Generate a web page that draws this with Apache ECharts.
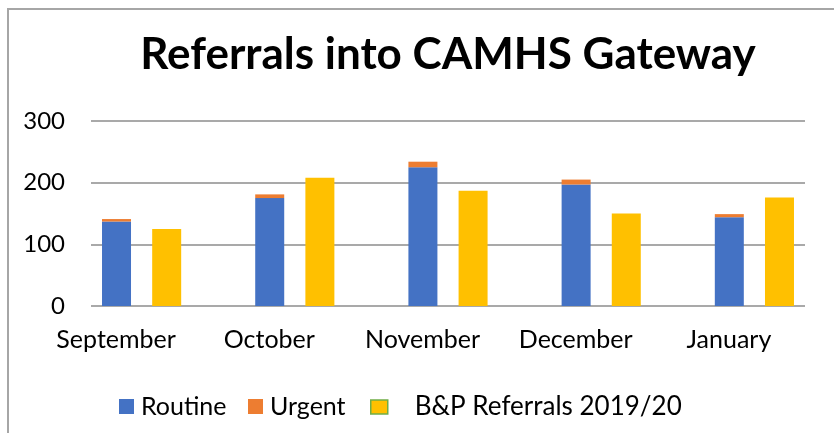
<!DOCTYPE html>
<html>
<head>
<meta charset="utf-8">
<style>
  html, body { margin: 0; padding: 0; background: #fff; }
  #main { width: 834px; height: 433px; }
</style>
<script src="https://cdn.jsdelivr.net/npm/echarts@6/dist/echarts.min.js"></script>
</head>
<body>
<div id="main"></div>
<script>
// data
var months = ['September', 'October', 'November', 'December', 'January'];
var routine = [137, 175, 225, 197, 144];
var urgent = [4, 6, 9, 8, 5];
var bpReferrals = [125, 208, 187, 150, 176];
var yTicks = [0, 100, 200, 300];

(function(){
  'use strict';

  var font = 'Lato';
  var myChart = echarts.init(document.getElementById('main'));

  var option = {
    animation: false,
    backgroundColor: '#fff',
    title: {
      text: 'Referrals into CAMHS Gateway',
      left: 443,
      top: 28,
      textAlign: 'center',
      textStyle: { fontFamily: font, fontWeight: 'bold', fontSize: 44, color: '#000' }
    },
    // outer frame (left + top only)
    graphic: [{
      type: 'polyline',
      shape: { points: [[8, 433], [8, 9], [834, 9]] },
      style: { stroke: '#a6a6a6', lineWidth: 2, fill: null }
    }],
    legend: [
      {
        data: ['Routine'], left: 114, top: 389,
        itemWidth: 15, itemHeight: 15, itemGap: 6, icon: 'rect',
        textStyle: { fontFamily: font, fontSize: 25, color: '#000', padding: [0, 0, 0, 2] }
      },
      {
        data: ['Urgent'], left: 243, top: 389,
        itemWidth: 15, itemHeight: 15, icon: 'rect',
        textStyle: { fontFamily: font, fontSize: 25, color: '#000', padding: [0, 0, 0, 2] }
      },
      {
        data: [{ name: 'B&P Referrals 2019/20', itemStyle: { borderColor: '#70AD47', borderWidth: 1.5 } }],
        left: 365, top: 389,
        itemWidth: 17, itemHeight: 14, icon: 'rect',
        textStyle: { fontFamily: font, fontSize: 26, color: '#000', padding: [0, 0, 0, 22] }
      }
    ],
    grid: [
      { left: 91, right: 29, top: 121, bottom: 127 },   // gridlines + y labels
      { left: 65, right: 3, top: 121, bottom: 127 }     // bars + month labels
    ],
    xAxis: [
      { gridIndex: 0, type: 'category', data: months, show: false },
      {
        gridIndex: 1, type: 'category', data: months,
        axisLine: { show: false }, axisTick: { show: false },
        axisLabel: {
          interval: 0, hideOverlap: false,
          fontFamily: font, fontSize: 25, color: '#000', margin: 21, padding: [0, 51, 0, 0]
        }
      }
    ],
    yAxis: [
      {
        gridIndex: 0, type: 'value', min: yTicks[0], max: yTicks[yTicks.length - 1], interval: 100,
        axisLine: { show: false }, axisTick: { show: false },
        axisLabel: { fontFamily: font, fontSize: 24, color: '#000', margin: 26 },
        splitLine: { lineStyle: { color: '#8c8c8c', width: 1.5 } }
      },
      {
        gridIndex: 1, type: 'value', min: 0, max: 300, show: false
      }
    ],
    series: [
      {
        name: 'Routine', type: 'bar', stack: 'r', xAxisIndex: 1, yAxisIndex: 1,
        barWidth: 29, barGap: '73%',
        itemStyle: { color: '#4472C4' }, data: routine
      },
      {
        name: 'Urgent', type: 'bar', stack: 'r', xAxisIndex: 1, yAxisIndex: 1,
        barWidth: 29, barGap: '73%',
        itemStyle: { color: '#ED7D31' }, data: urgent
      },
      {
        name: 'B&P Referrals 2019/20', type: 'bar', xAxisIndex: 1, yAxisIndex: 1,
        barWidth: 29, barGap: '73%',
        itemStyle: { color: '#FFC000' }, data: bpReferrals
      }
    ]
  };

  myChart.setOption(option);
}());
</script>
</body>
</html>
